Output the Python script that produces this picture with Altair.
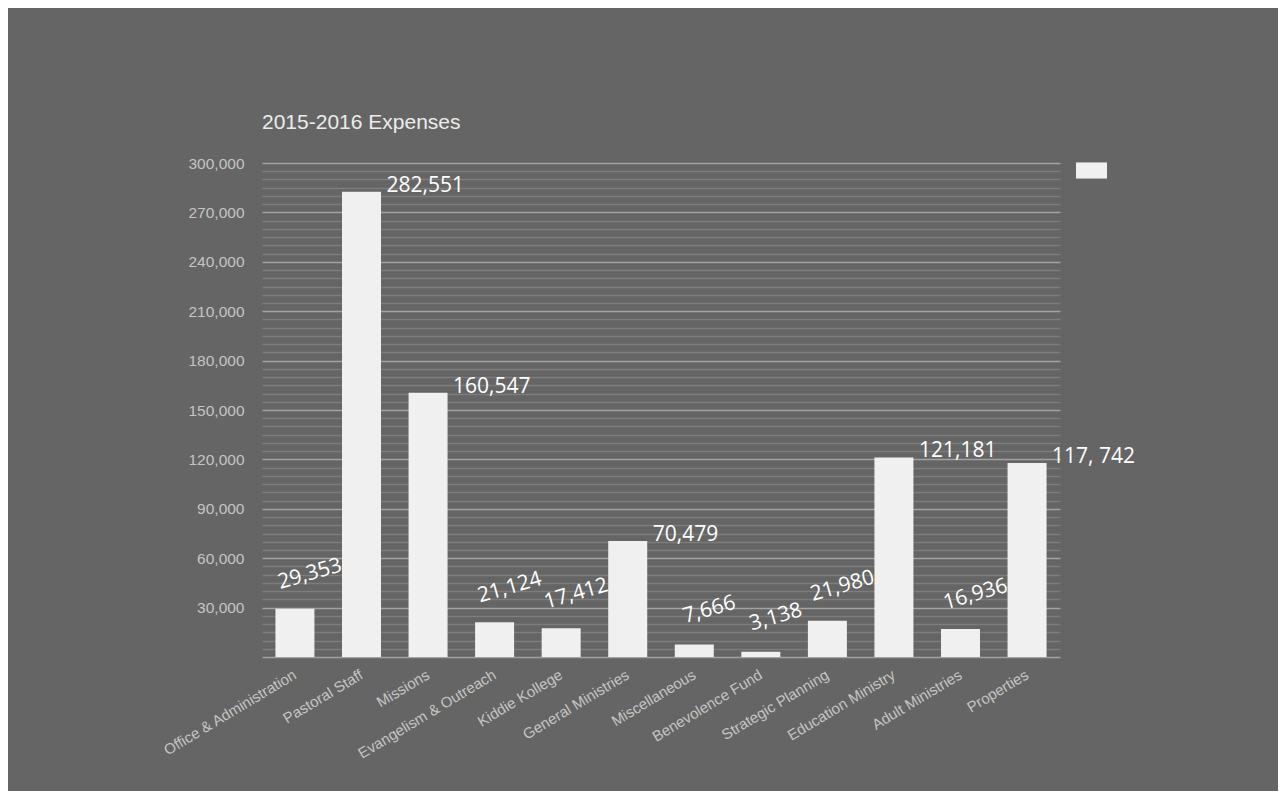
import altair as alt
import pandas as pd

categories = [
    "Office & Administration", "Pastoral Staff", "Missions",
    "Evangelism & Outreach", "Kiddie Kollege", "General Ministries",
    "Miscellaneous", "Benevolence Fund", "Strategic Planning",
    "Education Ministry", "Adult Ministries", "Properties",
]
values = [29353, 282551, 160547, 21124, 17412, 70479, 7666, 3138, 21980,
          121181, 16936, 117742]
value_labels = ["29,353", "282,551", "160,547", "21,124", "17,412", "70,479",
                "7,666", "3,138", "21,980", "121,181", "16,936", "117, 742"]
series_name = "Expenses"
title_text = "2015-2016 Expenses"
y_ticks = list(range(0, 300001, 5000))

df = pd.DataFrame({
    "category": categories,
    "value": values,
    "label": value_labels,
    "series": series_name,
})

x = alt.X(
    "category:N", sort=categories,
    scale=alt.Scale(paddingInner=0.41, paddingOuter=0.2),
    axis=alt.Axis(
        title=None, labelAngle=-31, labelAlign="right", labelBaseline="middle",
        labelPadding=16, ticks=False, domain=False, labelFontSize=15,
        labelColor="#c4c4c4", labelFont="Liberation Sans", labelLimit=400,
        grid=False,
    ),
)
y = alt.Y(
    "value:Q",
    scale=alt.Scale(domain=[0, 300000], nice=False),
    axis=alt.Axis(
        title=None, values=y_ticks, ticks=False, domain=False,
        labelExpr="datum.value % 30000 === 0 && datum.value > 0 ? format(datum.value, ',') : ''",
        labelOverlap=False, labelFlush=False, labelPadding=18,
        labelFontSize=15.5, labelColor="#c4c4c4", labelFont="Liberation Sans",
        grid=True, gridWidth=1.6,
        gridColor={"condition": {"test": "datum.value % 30000 === 0", "value": "#a2a2a2"},
                   "value": "#7d7d7d"},
    ),
)

base = alt.Chart(df).encode(x=x, y=y)

bars = base.mark_bar(size=39).encode(
    color=alt.Color(
        "series:N",
        scale=alt.Scale(range=["#f0f0f0"]),
        legend=alt.Legend(
            title=None, orient="none", legendX=814, legendY=-8,
            symbolType="M-1,-0.52H1V0.52H-1Z", symbolSize=961,
            symbolStrokeWidth=0, symbolOpacity=1, labelExpr="''",
        ),
    )
)

flat = base.transform_filter("datum.value >= 50000").mark_text(
    align="left", baseline="middle", dx=25, dy=-6,
    font="Open Sans", fontSize=21, fontWeight=500, color="#ffffff",
).encode(text="label:N")

tilted = base.transform_filter("datum.value < 50000").mark_text(
    align="center", baseline="middle", angle=344, dx=24, dy=-29,
    font="Open Sans", fontSize=21, fontWeight=500, color="#ffffff",
).encode(text="label:N")

chart = alt.layer(bars, flat, tilted).properties(
    width=798, height=494,
    title=alt.Title(title_text, anchor="start", frame="group", fontSize=21,
                    color="#ececec", font="Liberation Sans",
                    fontWeight="normal", offset=22),
    padding={"left": 254, "top": 155, "right": 218, "bottom": 134},
    autosize=alt.AutoSizeParams(type="none"),
    background="#656565",
).configure_view(stroke=None)

chart.save("out.html", embed_options={"renderer": "svg", "actions": False})
